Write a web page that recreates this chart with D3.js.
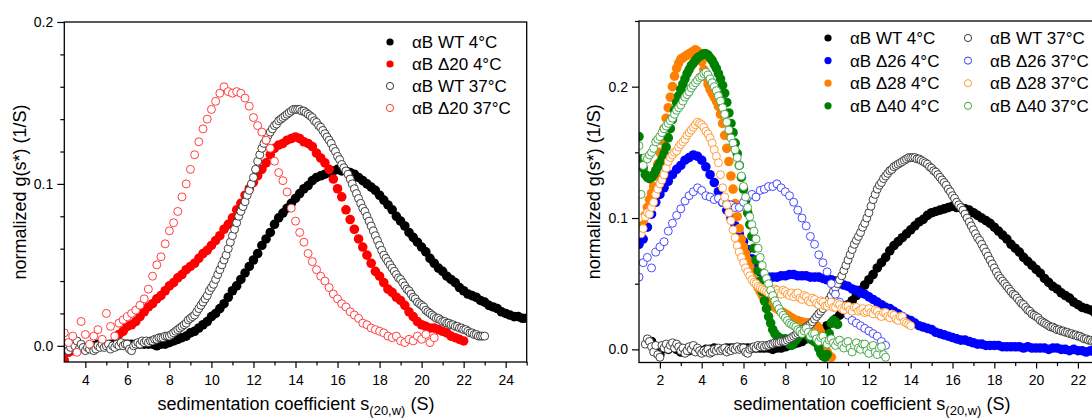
<!DOCTYPE html>
<html>
<head>
<meta charset="utf-8">
<script src="https://cdn.jsdelivr.net/npm/d3@7/dist/d3.min.js"></script>
<style>
  body { margin: 0; background: #fff; }
  svg text { font-family: "Liberation Sans", Arial, sans-serif; fill: #000; }
</style>
</head>
<body>
<svg id="chart" width="1092" height="420"></svg>
<script>
// g(s*) values, each series on a regular s grid (start, step)

// αB WT 4°C  (s from 1.6, step 0.2)
const wt4 = [0.006, 0.002, -0.004, 0.001, 0.000, 0.002, 0.000,
  -0.002, 0.000, -0.001, 0.001, 0.000,
  -0.001, 0.000, 0.000, 0.001, 0.000,
  0.000, 0.001, 0.001, 0.001, 0.001,
  0.001, 0.001, 0.001, 0.001, 0.001,
  0.001, 0.001, 0.000, 0.001, 0.001,
  0.002, 0.003, 0.004, 0.005, 0.006,
  0.008, 0.009, 0.011, 0.013, 0.015,
  0.018, 0.020, 0.023, 0.026, 0.030,
  0.034, 0.037, 0.041, 0.045, 0.049,
  0.053, 0.057, 0.062, 0.066, 0.070,
  0.075, 0.079, 0.082, 0.085, 0.088,
  0.091, 0.094, 0.097, 0.099, 0.102,
  0.104, 0.105, 0.106, 0.107, 0.108,
  0.109, 0.108, 0.108, 0.107, 0.106,
  0.104, 0.102, 0.100, 0.098, 0.096,
  0.093, 0.090, 0.087, 0.084, 0.080,
  0.077, 0.074, 0.070, 0.067, 0.064,
  0.061, 0.058, 0.054, 0.051, 0.048,
  0.046, 0.043, 0.041, 0.039, 0.036,
  0.034, 0.032, 0.031, 0.030, 0.028,
  0.027, 0.025, 0.024, 0.023, 0.021,
  0.020, 0.019, 0.018, 0.018, 0.017,
  0.017];

// αB WT 37°C  (s from 1.3, step 0.1)
const wt37 = [0.004, 0.008, 0.006, 0.002, -0.002, 0.003, -0.004, -0.006, 0.003, 0.001, 0.004, 0.000, 0.003, 0.005, 0.001, 0.004, 0.002,
  -0.001, 0.001, -0.003, -0.001, 0.002, 0.000, 0.003, -0.002, 0.001, -0.001,
  -0.003, -0.001, -0.002, 0.000, -0.003, -0.002, 0.000, -0.001, 0.001, -0.001,
  0.000, 0.001, -0.002, 0.000, -0.001, 0.001, 0.000, 0.002, 0.000, 0.001,
  0.001, -0.002, -0.003, 0.000, 0.001, 0.002, 0.001, 0.003, 0.002, 0.003,
  0.002, 0.003, 0.003, 0.004, 0.004, 0.005, 0.005, 0.005, 0.006, 0.006,
  0.006, 0.007, 0.008, 0.009, 0.010, 0.011, 0.012, 0.013, 0.014, 0.016,
  0.017, 0.018, 0.019, 0.021, 0.023, 0.025, 0.027, 0.029, 0.031, 0.034,
  0.036, 0.038, 0.041, 0.044, 0.047, 0.050, 0.053, 0.056, 0.060, 0.064,
  0.068, 0.072, 0.076, 0.080, 0.083, 0.086, 0.089, 0.093, 0.096, 0.100,
  0.104, 0.109, 0.114, 0.118, 0.122, 0.125, 0.127, 0.130, 0.132, 0.134,
  0.136, 0.137, 0.139, 0.140, 0.141, 0.142, 0.143, 0.144, 0.145, 0.146,
  0.146, 0.146, 0.146, 0.145, 0.145, 0.144, 0.143, 0.142, 0.141, 0.139,
  0.138, 0.136, 0.135, 0.133, 0.131, 0.129, 0.127, 0.125, 0.122, 0.120,
  0.117, 0.115, 0.112, 0.110, 0.108, 0.106, 0.103, 0.100, 0.097, 0.094,
  0.091, 0.088, 0.085, 0.083, 0.080, 0.077, 0.074, 0.071, 0.068, 0.065,
  0.062, 0.059, 0.056, 0.054, 0.052, 0.050, 0.048, 0.046, 0.044, 0.042,
  0.041, 0.039, 0.037, 0.035, 0.034, 0.032, 0.030, 0.029, 0.027, 0.026,
  0.025, 0.024, 0.022, 0.021, 0.020, 0.019, 0.018, 0.017, 0.017, 0.016,
  0.015, 0.015, 0.014, 0.014, 0.013, 0.013, 0.012, 0.012, 0.011, 0.011,
  0.010, 0.010, 0.009, 0.008, 0.008, 0.007, 0.007, 0.006, 0.006, 0.006,
  0.006];

// αB Δ20 4°C  (s from 3.0, step 0.2; null = no point visible)
const d20c4 = [-0.009, -0.004, -0.003, null, null,
  null, null, null, null, null,
  null, null, null, 0.007, 0.009,
  0.012, 0.013, 0.015, 0.018, 0.021,
  0.024, 0.026, 0.029, 0.031, 0.034,
  0.037, 0.039, 0.042, 0.044, 0.047,
  0.049, 0.051, 0.054, 0.057, 0.059,
  0.062, 0.065, 0.068, 0.072, 0.075,
  0.079, 0.084, 0.088, 0.093, 0.097,
  0.101, 0.105, 0.109, 0.113, 0.118,
  0.122, 0.124, 0.125, 0.127, 0.128,
  0.129, 0.128, 0.126, 0.125, 0.123,
  0.119, 0.116, 0.113, 0.109, 0.103,
  0.097, 0.092, 0.084, 0.078, 0.072,
  0.066, 0.061, 0.056, 0.051, 0.046,
  0.043, 0.039, 0.035, 0.033, 0.030,
  0.028, 0.025, 0.021, 0.018, 0.015,
  0.013, 0.012, 0.011, 0.011, 0.010,
  0.009, 0.008, 0.006, 0.005, 0.004,
  0.003];

// αB Δ20 37°C  (s from 3.0, step 0.2)
const d20c37 = [0.008, 0.002, 0.006, -0.004, 0.015,
  0.007, 0.001, 0.006, 0.010, 0.004,
  0.020, 0.012, 0.006, 0.014, 0.016,
  0.018, 0.020, 0.022, 0.025, 0.029,
  0.035, 0.043, 0.050, 0.055, 0.063,
  0.071, 0.076, 0.083, 0.092, 0.100,
  0.109, 0.118, 0.126, 0.134, 0.140,
  0.146, 0.151, 0.156, 0.160, 0.157,
  0.156, 0.157, 0.156, 0.153, 0.148,
  0.141, 0.136, 0.132, 0.127, 0.122,
  0.114, 0.107, 0.102, 0.095, 0.085,
  0.077, 0.070, 0.064, 0.057, 0.052,
  0.047, 0.043, 0.040, 0.036, 0.032,
  0.029, 0.026, 0.024, 0.021, 0.019,
  0.017, 0.014, 0.013, 0.011, 0.010,
  0.009, 0.008, 0.006, 0.005, 0.006,
  0.003, 0.002, 0.004, 0.003, 0.006,
  0.004, 0.007, 0.002, 0.005];

// αB Δ26 4°C  (s from 1.0, step 0.2)
const d26c4 = [0.080, 0.084, 0.093, 0.103, 0.112,
  0.118, 0.123, 0.128, 0.133, 0.137,
  0.140, 0.144, 0.146, 0.148, 0.147,
  0.144, 0.139, 0.133, 0.127, 0.120,
  0.112, 0.106, 0.100, 0.094, 0.088,
  0.082, 0.076, 0.069, 0.063, 0.059,
  0.056, 0.055, 0.055, 0.055, 0.056,
  0.056, 0.057, 0.057, 0.056, 0.056,
  0.056, 0.055, 0.055, 0.055, 0.054,
  0.053, 0.053, 0.052, 0.051, 0.049,
  0.048, 0.046, 0.045, 0.043, 0.042,
  0.040, 0.038, 0.036, 0.034, 0.032,
  0.031, 0.029, 0.027, 0.025, 0.023,
  0.022, 0.020, 0.018, 0.017, 0.016,
  0.015, 0.013, 0.012, 0.011, 0.010,
  0.009, 0.008, 0.007, 0.007, 0.006,
  0.005, 0.004, 0.004, 0.003, 0.003,
  0.003, 0.003, 0.002, 0.002, 0.002,
  0.002, 0.002, 0.001, 0.002, 0.001,
  0.001, 0.001, 0.001, 0.000, 0.001,
  0.001, 0.000, 0.000, -0.001, 0.000,
  -0.001, -0.001, -0.002, -0.001, -0.002,
  -0.002];

// αB Δ26 37°C  (s from 1.0, step 0.2)
const d26c37 = [0.055, 0.066, 0.070, 0.062, 0.074,
  0.078, 0.082, 0.090, 0.096, 0.102,
  0.107, 0.113, 0.117, 0.120, 0.123,
  0.121, 0.117, 0.116, 0.114, 0.115,
  0.112, 0.111, 0.110, 0.108, 0.108,
  0.112, 0.116, 0.118, 0.116, 0.121,
  0.122, 0.124, 0.124, 0.126, 0.123,
  0.120, 0.117, 0.112, 0.106, 0.100,
  0.094, 0.086, 0.080, 0.072, 0.066,
  0.059, 0.050, 0.042, 0.036, 0.031,
  0.026, 0.022, 0.020, 0.018, 0.016,
  0.014, 0.012, 0.010, 0.006, 0.003];

// αB Δ28 4°C  (s from 1.0, step 0.1)
const d28c4 = [0.092, 0.094, 0.098, 0.102, 0.108, 0.114, 0.119, 0.124, 0.132, 0.141,
  0.150, 0.159, 0.168, 0.176, 0.184, 0.192, 0.200, 0.208, 0.214, 0.218,
  0.221, 0.222, 0.223, 0.224, 0.225, 0.226, 0.227, 0.228, 0.227, 0.224,
  0.219, 0.213, 0.207, 0.202, 0.198, 0.195, 0.192, 0.189, 0.185, 0.179,
  0.172, 0.163, 0.153, 0.143, 0.132, 0.122, 0.111, 0.101, 0.092, 0.084,
  0.078, 0.073, 0.068, 0.063, 0.058, 0.053, 0.050, 0.047, 0.044, 0.041,
  0.039, 0.037, 0.036, 0.034, 0.033, 0.032, 0.031, 0.030, 0.029, 0.028,
  0.027, 0.026, 0.025, 0.024, 0.023, 0.022, 0.022, 0.021, 0.021, 0.020,
  0.020, 0.020, 0.020, 0.019, 0.019, 0.018, 0.016, 0.013, 0.008, 0.003,
  -0.002, -0.005, -0.006];

// αB Δ28 37°C  (s from 1.0, step 0.1)
const d28c37 = [0.100, 0.088, 0.092, 0.101, 0.104, 0.103, 0.108, 0.112, 0.118, 0.122,
  0.126, 0.129, 0.133, 0.138, 0.143, 0.146, 0.148, 0.150, 0.151, 0.154,
  0.156, 0.158, 0.160, 0.163, 0.165, 0.167, 0.169, 0.171, 0.173, 0.172,
  0.171, 0.169, 0.166, 0.164, 0.161, 0.157, 0.152, 0.147, 0.142, 0.133,
  0.123, 0.116, 0.110, 0.104, 0.098, 0.091, 0.085, 0.079, 0.074, 0.070,
  0.066, 0.062, 0.059, 0.056, 0.053, 0.051, 0.050, 0.048, 0.047, 0.046,
  0.045, 0.044, 0.043, 0.045, 0.044, 0.046, 0.045, 0.043, 0.042, 0.045,
  0.044, 0.042, 0.041, 0.043, 0.040, 0.042, 0.043, 0.039, 0.038, 0.041,
  0.040, 0.037, 0.036, 0.039, 0.038, 0.035, 0.034, 0.037, 0.036, 0.033,
  0.033, 0.035, 0.036, 0.032, 0.032, 0.035, 0.034, 0.031, 0.030, 0.033,
  0.033, 0.030, 0.029, 0.032, 0.032, 0.029, 0.030, 0.031, 0.028, 0.029,
  0.031, 0.028, 0.027, 0.030, 0.029, 0.026, 0.025, 0.028, 0.028, 0.025,
  0.024, 0.027, 0.026, 0.023, 0.022, 0.025, 0.025, 0.021, 0.020, 0.019,
  0.018];

// αB Δ40 4°C  (s from 1.0, step 0.1)
const d40c4 = [0.162, 0.145, 0.138, 0.133, 0.131, 0.130, 0.131, 0.133, 0.136, 0.139,
  0.142, 0.145, 0.149, 0.154, 0.161, 0.168, 0.175, 0.182, 0.188, 0.193,
  0.198, 0.202, 0.206, 0.210, 0.213, 0.216, 0.218, 0.220, 0.222, 0.223,
  0.224, 0.225, 0.225, 0.224, 0.222, 0.220, 0.217, 0.214, 0.210, 0.206,
  0.201, 0.195, 0.188, 0.180, 0.172, 0.165, 0.157, 0.149, 0.140, 0.131,
  0.122, 0.113, 0.104, 0.095, 0.086, 0.077, 0.068, 0.060, 0.052, 0.044,
  0.037, 0.031, 0.025, 0.020, 0.015, 0.012, 0.010, 0.009, 0.008, 0.007,
  0.008, 0.006, 0.004, 0.003, 0.005, 0.007, 0.009, 0.011, 0.012, 0.013,
  0.012, 0.010, 0.008, 0.007, 0.006, 0.005, 0.001, -0.003, -0.005, -0.006,
  -0.004, 0.012, 0.020, 0.022, 0.021, 0.019];

// αB Δ40 37°C  (s from 1.0, step 0.1)
const d40c37 = [0.155, 0.118, 0.140, 0.146, 0.145, 0.148, 0.150, 0.153, 0.158, 0.160,
  0.162, 0.165, 0.168, 0.170, 0.172, 0.174, 0.176, 0.179, 0.182, 0.184,
  0.186, 0.189, 0.192, 0.194, 0.196, 0.199, 0.201, 0.203, 0.205, 0.207,
  0.208, 0.210, 0.211, 0.209, 0.206, 0.203, 0.200, 0.197, 0.193, 0.189,
  0.184, 0.179, 0.173, 0.167, 0.161, 0.157, 0.152, 0.146, 0.140, 0.132,
  0.124, 0.116, 0.108, 0.101, 0.095, 0.090, 0.084, 0.077, 0.070, 0.064,
  0.058, 0.054, 0.050, 0.045, 0.041, 0.037, 0.034, 0.031, 0.028, 0.026,
  0.024, 0.022, 0.020, 0.019, 0.018, 0.017, 0.015, 0.014, 0.012, 0.014,
  0.016, 0.013, 0.010, 0.012, 0.012, 0.008, 0.006, 0.009, 0.010, 0.006,
  0.004, 0.007, 0.008, 0.005, 0.003, 0.006, 0.007, 0.003, 0.001, 0.005,
  0.006, 0.001, -0.002, 0.003, 0.005, 0.001, 0.000, 0.004, 0.004, -0.001,
  -0.003, 0.002, 0.003, -0.002, -0.004, 0.001, 0.002, -0.004, -0.006];

// axis ticks
const leftXTicks = [4, 6, 8, 10, 12, 14, 16, 18, 20, 22, 24];
const leftXMinor = [5, 7, 9, 11, 13, 15, 17, 19, 21, 23, 25];
const leftYTicks = [0, 0.1, 0.2];
const leftYMinor = [0.02, 0.04, 0.06, 0.08, 0.12, 0.14, 0.16, 0.18];
const rightXTicks = [2, 4, 6, 8, 10, 12, 14, 16, 18, 20, 22];
const rightXMinor = [3, 5, 7, 9, 11, 13, 15, 17, 19, 21, 23, 25];
const rightYTicks = [0, 0.1, 0.2];
const rightYMinor = [0.05, 0.15, 0.25];

const leftLabels = ["αB WT 4°C", "αB Δ20 4°C", "αB WT 37°C", "αB Δ20 37°C"];
const rightLabels = ["αB WT 4°C", "αB Δ26 4°C", "αB Δ28 4°C", "αB Δ40 4°C",
  "αB WT 37°C", "αB Δ26 37°C", "αB Δ28 37°C", "αB Δ40 37°C"];

function points(start, step, values) {
  return values.map((g, i) => ({ s: start + i * step, g }))
    .filter(d => d.g !== null);
}

const svg = d3.select("#chart");

const sty = {
  wt4:  { color: "#000", open: false },
  wt37: { color: "#222", open: true },
  d20c4: { color: "#ff0000", open: false },
  d20c37: { color: "#ff2020", open: true },
  d26c4: { color: "#0000ff", open: false },
  d26c37: { color: "#2a2aff", open: true },
  d28c4: { color: "#ff8000", open: false },
  d28c37: { color: "#ff8c1a", open: true },
  d40c4: { color: "#008000", open: false },
  d40c37: { color: "#2f9a2f", open: true }
};

const seriesData = {
  wt4: points(1.6, 0.2, wt4),
  wt37: points(1.3, 0.1, wt37),
  d20c4: points(3.0, 0.2, d20c4),
  d20c37: points(3.0, 0.2, d20c37),
  d26c4: points(1.0, 0.2, d26c4),
  d26c37: points(1.0, 0.2, d26c37),
  d28c4: points(1.0, 0.1, d28c4),
  d28c37: points(1.0, 0.1, d28c37),
  d40c4: points(1.0, 0.1, d40c4),
  d40c37: points(1.0, 0.1, d40c37)
};

function drawPanel(cfg) {
  const x = d3.scaleLinear().domain(cfg.xDomain).range(cfg.xRange);
  const y = d3.scaleLinear().domain(cfg.yDomain).range(cfg.yRange);
  const g = svg.append("g");

  g.append("clipPath").attr("id", "clip-" + cfg.name)
    .append("rect")
    .attr("x", cfg.xRange[0]).attr("y", cfg.yRange[1])
    .attr("width", cfg.xRange[1] - cfg.xRange[0])
    .attr("height", cfg.yRange[0] - cfg.yRange[1]);

  const plot = g.append("g").attr("clip-path", `url(#clip-${cfg.name})`);

  cfg.order.forEach(key => {
    const st = sty[key];
    plot.append("g").selectAll("circle")
      .data(seriesData[key])
      .join("circle")
      .attr("cx", d => x(d.s))
      .attr("cy", d => y(d.g))
      .attr("r", st.open ? 4 : 4.8)
      .attr("fill", st.open ? "#fff" : st.color)
      .attr("stroke", st.open ? st.color : "none")
      .attr("stroke-width", 0.85);
  });

  // frame
  g.append("rect")
    .attr("x", cfg.xRange[0]).attr("y", cfg.yRange[1])
    .attr("width", cfg.xRange[1] - cfg.xRange[0])
    .attr("height", cfg.yRange[0] - cfg.yRange[1])
    .attr("fill", "none").attr("stroke", "#000").attr("stroke-width", 1.3);

  const xAx = g.append("g").attr("transform", `translate(0,${cfg.yRange[0]})`);
  xAx.call(d3.axisBottom(x).tickValues(cfg.xTicks).tickSize(6).tickPadding(7).tickFormat(d3.format("d")));
  xAx.append("g").call(d3.axisBottom(x).tickValues(cfg.xMinor).tickSize(3.5).tickFormat(""));

  const yAx = g.append("g").attr("transform", `translate(${cfg.xRange[0]},0)`);
  yAx.call(d3.axisLeft(y).tickValues(cfg.yTicks).tickSize(7).tickPadding(4).tickFormat(d3.format(".1f")));
  yAx.append("g").call(d3.axisLeft(y).tickValues(cfg.yMinor).tickSize(4).tickFormat(""));

  g.selectAll(".domain").remove();
  g.selectAll(".tick line").attr("stroke", "#000").attr("stroke-width", 1.2);
  g.selectAll(".tick text").attr("font-size", 14).attr("font-family", '"Liberation Sans", Arial, sans-serif');

  // axis titles
  const xt = g.append("text")
    .attr("x", cfg.xTitleX).attr("y", 410)
    .attr("text-anchor", "middle").attr("font-size", 18);
  xt.append("tspan").text("sedimentation coefficient s");
  xt.append("tspan").attr("font-size", 13).attr("dy", 5).text("(20,w)");
  xt.append("tspan").attr("dy", -5).text(" (S)");

  g.append("text")
    .attr("transform", `translate(${cfg.yTitleX},${(cfg.yRange[0] + cfg.yRange[1]) / 2}) rotate(-90)`)
    .attr("text-anchor", "middle").attr("font-size", 18)
    .text("normalized g(s*) (1/S)");

  // legend
  const lg = g.append("g");
  cfg.legend.forEach((it, i) => {
    const col = Math.floor(i / cfg.legendRows);
    const row = i % cfg.legendRows;
    const mx = cfg.legendX[col], my = cfg.legendY + row * cfg.legendDy;
    const st = sty[it.key];
    lg.append("circle").attr("cx", mx).attr("cy", my).attr("r", 3.6)
      .attr("fill", st.open ? "#fff" : st.color)
      .attr("stroke", st.open ? st.color : "none").attr("stroke-width", 0.9);
    lg.append("text").attr("x", mx + 22).attr("y", my + 6)
      .attr("font-size", 17).text(it.label);
  });
}

drawPanel({
  name: "left",
  xDomain: [3, 25], xRange: [64.3, 526.7],
  yDomain: [-0.01, 0.2], yRange: [362, 22],
  xTicks: leftXTicks, xMinor: leftXMinor, yTicks: leftYTicks, yMinor: leftYMinor,
  order: ["wt4", "d20c4", "wt37", "d20c37"],
  xTitleX: 296, yTitleX: 26,
  legend: ["wt4", "d20c4", "wt37", "d20c37"].map((k, i) => ({ key: k, label: leftLabels[i] })),
  legendRows: 4, legendX: [390], legendY: 42, legendDy: 22
});

drawPanel({
  name: "right",
  xDomain: [1, 25], xRange: [639, 1140.6],
  yDomain: [-0.01, 0.25], yRange: [362.5, 21],
  xTicks: rightXTicks, xMinor: rightXMinor, yTicks: rightYTicks, yMinor: rightYMinor,
  order: ["wt4", "d26c4", "d28c4", "d40c4", "wt37", "d26c37", "d28c37", "d40c37"],
  xTitleX: 872, yTitleX: 600,
  legend: ["wt4", "d26c4", "d28c4", "d40c4", "wt37", "d26c37", "d28c37", "d40c37"]
    .map((k, i) => ({ key: k, label: rightLabels[i] })),
  legendRows: 4, legendX: [828, 968], legendY: 38, legendDy: 22.6
});
</script>
</body>
</html>
